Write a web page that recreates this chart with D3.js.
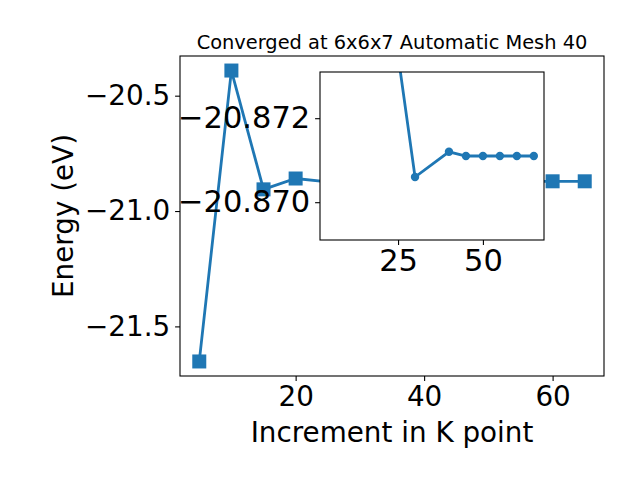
<!DOCTYPE html>
<html><head><meta charset="utf-8">
<script src="https://cdn.jsdelivr.net/npm/d3@7"></script>
<style>body{margin:0;background:#fff}svg{display:block;font-family:"DejaVu Sans",sans-serif}</style>
</head><body><svg id="c" width="640" height="480"></svg>
<script>
const kpoints = [5,10,15,20,25,30,40,45,50,55,60,65];
const energy = [-21.652,-20.391,-20.906,-20.859,-20.8735,-20.8706,-20.8712,-20.8711,-20.8711,-20.8711,-20.8711,-20.8711];
const insetStart = 4;
const mainXTicks = [20,40,60];
const mainYTicks = [-21.5,-21.0,-20.5];
const insetXTicks = [25,50];
const insetYTicks = [-20.872,-20.870];
const title = "Converged at 6x6x7 Automatic Mesh 40";
const xLabel = "Increment in K point";
const yLabel = "Energy (eV)";

const svg = d3.select("#c");
const blue = "#1f77b4";
const M = {l:180, r:604, t:56, b:376};
const x = d3.scaleLinear().domain([2,68]).range([M.l,M.r]);
const y = d3.scaleLinear().domain([-21.715,-20.328]).range([M.b,M.t]);
const data = kpoints.map((k,i)=>({k, e: energy[i]}));

const defs = svg.append("defs");
defs.append("clipPath").attr("id","mclip").append("rect").attr("x",M.l).attr("y",M.t).attr("width",M.r-M.l).attr("height",M.b-M.t);

const fs = 27.8, fsi = 30.5;
const gx = svg.append("g").attr("transform",`translate(0,${M.b})`)
  .call(d3.axisBottom(x).tickValues(mainXTicks).tickFormat(d3.format("d")).tickSize(4.9).tickPadding(4.9));
const gy = svg.append("g").attr("transform",`translate(${M.l},0)`)
  .call(d3.axisLeft(y).tickValues(mainYTicks).tickFormat(d3.format(".1f")).tickSize(4.9).tickPadding(4.9));
[gx,gy].forEach(g=>{g.select(".domain").remove();g.selectAll("text").attr("font-size",fs).attr("font-family","DejaVu Sans").attr("fill","#000");g.selectAll("line").attr("stroke","#000").attr("stroke-width",1.1);});

const mg = svg.append("g").attr("clip-path","url(#mclip)");
mg.append("path").datum(data).attr("fill","none").attr("stroke",blue).attr("stroke-width",2.8)
  .attr("d", d3.line().x(d=>x(d.k)).y(d=>y(d.e)));
const ms = 14;
mg.selectAll("rect.m").data(data).enter().append("rect").attr("class","m")
  .attr("x",d=>x(d.k)-ms/2).attr("y",d=>y(d.e)-ms/2).attr("width",ms).attr("height",ms).attr("fill",blue);

svg.append("rect").attr("x",M.l).attr("y",M.t).attr("width",M.r-M.l).attr("height",M.b-M.t)
  .attr("fill","none").attr("stroke","#000").attr("stroke-width",1.1);

svg.append("text").attr("x",(M.l+M.r)/2).attr("y",M.t-7).attr("text-anchor","middle").attr("font-size",19.4).text(title);
svg.append("text").attr("x",(M.l+M.r)/2).attr("y",442).attr("text-anchor","middle").attr("font-size",fs).text(xLabel);
svg.append("text").attr("transform",`translate(73,${(M.t+M.b)/2}) rotate(-90)`).attr("text-anchor","middle").attr("font-size",fs).text(yLabel);

// inset
const I = {l:320, r:544, t:72, b:240};
const xi = d3.scaleLinear().domain([2,68]).range([I.l,I.r]);
const yi = d3.scaleLinear().domain([-20.8731,-20.8691]).range([I.t,I.b]);
defs.append("clipPath").attr("id","iclip").append("rect").attr("x",I.l).attr("y",I.t).attr("width",I.r-I.l).attr("height",I.b-I.t);
svg.append("rect").attr("x",I.l).attr("y",I.t).attr("width",I.r-I.l).attr("height",I.b-I.t).attr("fill","#fff");
const idata = data.slice(insetStart);
const ig = svg.append("g").attr("clip-path","url(#iclip)");
ig.append("path").datum(idata).attr("fill","none").attr("stroke",blue).attr("stroke-width",2.8)
  .attr("d", d3.line().x(d=>xi(d.k)).y(d=>yi(d.e)));
ig.selectAll("circle").data(idata).enter().append("circle")
  .attr("cx",d=>xi(d.k)).attr("cy",d=>yi(d.e)).attr("r",4.2).attr("fill",blue);
svg.append("rect").attr("x",I.l).attr("y",I.t).attr("width",I.r-I.l).attr("height",I.b-I.t)
  .attr("fill","none").attr("stroke","#000").attr("stroke-width",1.1);
const gxi = svg.append("g").attr("transform",`translate(0,${I.b})`)
  .call(d3.axisBottom(xi).tickValues(insetXTicks).tickFormat(d3.format("d")).tickSize(4.9).tickPadding(4.9));
const gyi = svg.append("g").attr("transform",`translate(${I.l},0)`)
  .call(d3.axisLeft(yi).tickValues(insetYTicks).tickFormat(d3.format(".3f")).tickSize(4.9).tickPadding(4.9));
[gxi,gyi].forEach(g=>{g.select(".domain").remove();g.selectAll("text").attr("font-size",fsi).attr("font-family","DejaVu Sans").attr("fill","#000");g.selectAll("line").attr("stroke","#000").attr("stroke-width",1.1);});
</script></body></html>
